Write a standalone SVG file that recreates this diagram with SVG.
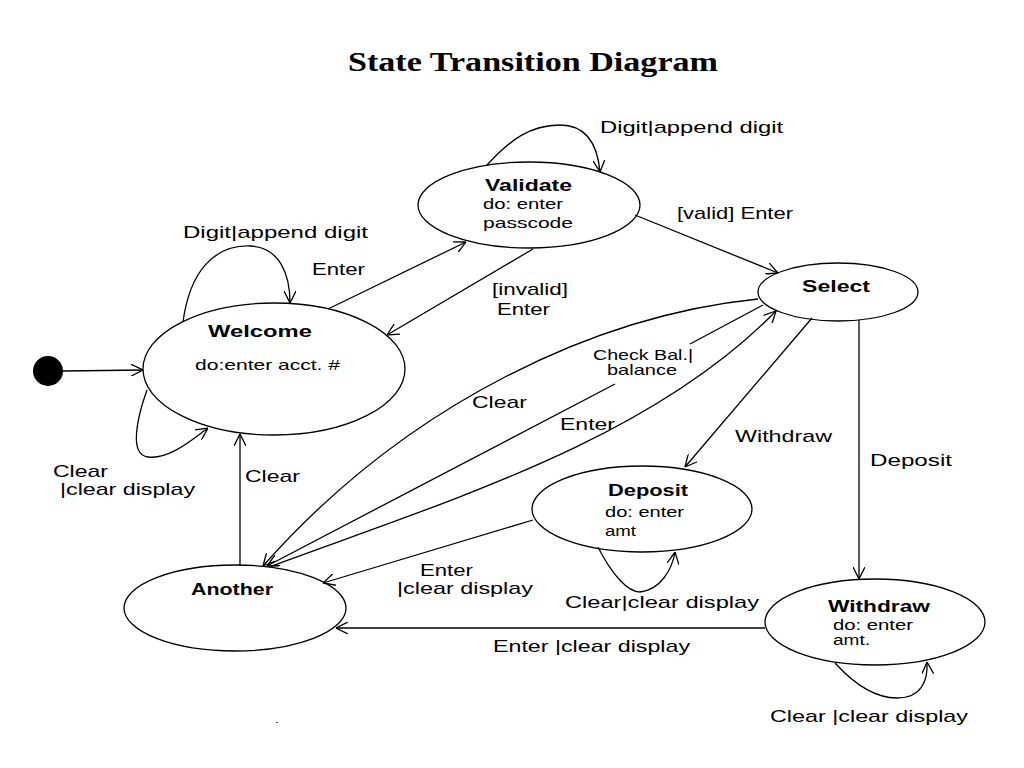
<svg xmlns="http://www.w3.org/2000/svg" width="1024" height="768" viewBox="0 0 1024 768">
<style>
.n{fill:#fff;stroke:#000;stroke-width:1.3}
.c{fill:none;stroke:#000;stroke-width:1.3}
.t{font-family:"Liberation Sans",Arial,sans-serif;font-size:17px;fill:#000}
.s{font-family:"Liberation Sans",Arial,sans-serif;font-size:15px;fill:#000}
.b{font-family:"Liberation Sans",Arial,sans-serif;font-size:16px;font-weight:bold;fill:#000}
.h{font-family:"Liberation Serif","Times New Roman",serif;font-size:28px;font-weight:bold;fill:#000}
</style>
<defs>
<marker id="a" viewBox="0 0 12 12" refX="12" refY="6" markerWidth="12" markerHeight="12" markerUnits="userSpaceOnUse" orient="auto">
<path d="M0,0 L12,6 L0,12" fill="none" stroke="#000" stroke-width="1.3"/>
</marker>
</defs>
<rect width="1024" height="768" fill="#fff"/>
<text class="h" x="348" y="71" textLength="370" lengthAdjust="spacingAndGlyphs">State Transition Diagram</text>

<g id="initial"><circle cx="48" cy="371" r="15" fill="#000"/></g>
<g id="welcome">
<ellipse class="n" cx="274" cy="369" rx="131" ry="66"/>
<text class="b" x="208" y="337" textLength="104" lengthAdjust="spacingAndGlyphs">Welcome</text>
<text class="s" x="195" y="370" textLength="145" lengthAdjust="spacingAndGlyphs">do:enter acct. #</text>
</g>
<g id="validate">
<ellipse class="n" cx="529" cy="205" rx="111" ry="43"/>
<text class="b" x="485" y="191" textLength="87" lengthAdjust="spacingAndGlyphs">Validate</text>
<text class="s" x="483" y="209" textLength="80" lengthAdjust="spacingAndGlyphs">do: enter</text>
<text class="s" x="483" y="228" textLength="90" lengthAdjust="spacingAndGlyphs">passcode</text>
</g>
<g id="select">
<ellipse class="n" cx="838" cy="292" rx="80" ry="29"/>
<text class="b" x="802" y="292" textLength="68" lengthAdjust="spacingAndGlyphs">Select</text>
</g>
<g id="deposit">
<ellipse class="n" cx="642" cy="509" rx="110" ry="43"/>
<text class="b" x="608" y="496" textLength="80" lengthAdjust="spacingAndGlyphs">Deposit</text>
<text class="s" x="605" y="517" textLength="79" lengthAdjust="spacingAndGlyphs">do: enter</text>
<text class="s" x="605" y="536" textLength="31" lengthAdjust="spacingAndGlyphs">amt</text>
</g>
<g id="withdraw">
<ellipse class="n" cx="875" cy="622" rx="110" ry="43"/>
<text class="b" x="828" y="612" textLength="102" lengthAdjust="spacingAndGlyphs">Withdraw</text>
<text class="s" x="833" y="630" textLength="80" lengthAdjust="spacingAndGlyphs">do: enter</text>
<text class="s" x="833" y="645" textLength="37" lengthAdjust="spacingAndGlyphs">amt.</text>
</g>
<g id="another">
<ellipse class="n" cx="235" cy="608" rx="111" ry="43"/>
<text class="b" x="191" y="595" textLength="82" lengthAdjust="spacingAndGlyphs">Another</text>
</g>

<g id="connectors">
<path class="c" marker-end="url(#a)" d="M63,371 L143,370"/>
<path class="c" marker-end="url(#a)" d="M183,322 C190,270 215,245 250,246 C280,247 290,275 290,303"/>
<path class="c" marker-end="url(#a)" d="M147,390 C138,415 128,455 148,457 C170,460 195,437 208,428"/>
<path class="c" marker-end="url(#a)" d="M240,566 L240,434"/>
<path class="c" marker-end="url(#a)" d="M328,309 L466,242"/>
<path class="c" marker-end="url(#a)" d="M533,249 L387,335"/>
<path class="c" marker-end="url(#a)" d="M487,165 C510,140 530,125 560,125 C590,125 598,150 600,172"/>
<path class="c" marker-end="url(#a)" d="M635,215 L778,273"/>
<path class="c" marker-end="url(#a)" d="M758,299 C600,315 410,400 263,566"/>
<path class="c" d="M763,305 L690,344"/>
<path class="c" marker-end="url(#a)" d="M615,384 L267,566"/>
<path class="c" marker-end="url(#a)" d="M269,567 C450,500 650,440 776,311"/>
<path class="c" marker-end="url(#a)" d="M812,318 L685,467"/>
<path class="c" marker-end="url(#a)" d="M859,320 L859,579"/>
<path class="c" marker-end="url(#a)" d="M533,520 L323,583"/>
<path class="c" marker-end="url(#a)" d="M598,547 C612,575 628,592 640,592 C660,590 672,570 675,552"/>
<path class="c" marker-end="url(#a)" d="M765,628 L336,628"/>
<path class="c" marker-end="url(#a)" d="M835,663 C855,685 875,698 897,698 C922,698 928,680 927,662"/>
</g>

<g id="labels">
<text class="t" x="183" y="238" textLength="185" lengthAdjust="spacingAndGlyphs">Digit|append digit</text>
<text class="t" x="312" y="275" textLength="53" lengthAdjust="spacingAndGlyphs">Enter</text>
<text class="t" x="600" y="133" textLength="183" lengthAdjust="spacingAndGlyphs">Digit|append digit</text>
<text class="t" x="677" y="219" textLength="116" lengthAdjust="spacingAndGlyphs">[valid] Enter</text>
<text class="t" x="492" y="295" textLength="76" lengthAdjust="spacingAndGlyphs">[invalid]</text>
<text class="t" x="497" y="315" textLength="53" lengthAdjust="spacingAndGlyphs">Enter</text>
<text class="s" x="593" y="360" textLength="100" lengthAdjust="spacingAndGlyphs">Check Bal.|</text>
<text class="s" x="607" y="375" textLength="70" lengthAdjust="spacingAndGlyphs">balance</text>
<text class="t" x="472" y="408" textLength="55" lengthAdjust="spacingAndGlyphs">Clear</text>
<text class="t" x="560" y="430" textLength="55" lengthAdjust="spacingAndGlyphs">Enter</text>
<text class="t" x="735" y="442" textLength="97" lengthAdjust="spacingAndGlyphs">Withdraw</text>
<text class="t" x="870" y="466" textLength="82" lengthAdjust="spacingAndGlyphs">Deposit</text>
<text class="t" x="53" y="477" textLength="55" lengthAdjust="spacingAndGlyphs">Clear</text>
<text class="t" x="60" y="495" textLength="135" lengthAdjust="spacingAndGlyphs">|clear display</text>
<text class="t" x="245" y="482" textLength="55" lengthAdjust="spacingAndGlyphs">Clear</text>
<text class="t" x="420" y="576" textLength="53" lengthAdjust="spacingAndGlyphs">Enter</text>
<text class="t" x="397" y="594" textLength="136" lengthAdjust="spacingAndGlyphs">|clear display</text>
<text class="t" x="565" y="608" textLength="194" lengthAdjust="spacingAndGlyphs">Clear|clear display</text>
<text class="t" x="493" y="652" textLength="197" lengthAdjust="spacingAndGlyphs">Enter |clear display</text>
<text class="t" x="770" y="722" textLength="198" lengthAdjust="spacingAndGlyphs">Clear |clear display</text>
</g>
<rect x="276" y="722" width="2" height="1" fill="#555"/>
</svg>
